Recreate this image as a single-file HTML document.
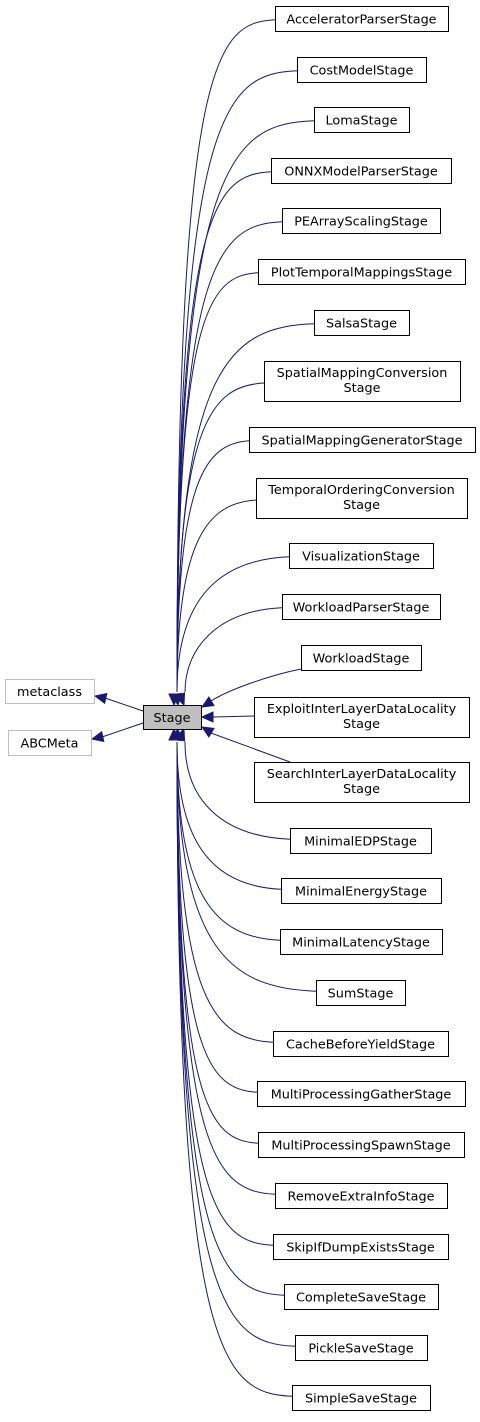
<!DOCTYPE html>
<html><head><meta charset="utf-8"><style>
html,body{margin:0;padding:0;background:#fff;}
svg text{font-family:"DejaVu Sans","Liberation Sans",sans-serif;font-size:12.8px;fill:#000;}
</style></head><body>
<svg id="g" width="480" height="1417" xmlns="http://www.w3.org/2000/svg"></svg>
<script>
const names = ["AcceleratorParserStage","CostModelStage","LomaStage","ONNXModelParserStage","PEArrayScalingStage","PlotTemporalMappingsStage","SalsaStage","SpatialMappingConversion|Stage","SpatialMappingGeneratorStage","TemporalOrderingConversion|Stage","VisualizationStage","WorkloadParserStage","WorkloadStage","ExploitInterLayerDataLocality|Stage","SearchInterLayerDataLocality|Stage","MinimalEDPStage","MinimalEnergyStage","MinimalLatencyStage","SumStage","CacheBeforeYieldStage","MultiProcessingGatherStage","MultiProcessingSpawnStage","RemoveExtraInfoStage","SkipIfDumpExistsStage","CompleteSaveStage","PickleSaveStage","SimpleSaveStage"];
const boxX = [275,297,314,271,282,258,314,264,249,256,289,282,301,254,254,290,281,280,316,273,257,258,275,273,284,295,292];
const boxW = [173,129,95,180,158,207,95,196,226,211,144,158,120,215,215,141,160,162,89,175,208,206,172,175,154,132,138];
const boxY = [6,57,107,158,208,259,310,361,427,478,543,594,645,697,762,828,878,929,980,1031,1081,1132,1183,1234,1284,1335,1385];
const NS="http://www.w3.org/2000/svg";
const svg=document.getElementById('g');
function el(t,a){const e=document.createElementNS(NS,t);for(const k in a)e.setAttribute(k,a[k]);svg.appendChild(e);return e;}
function arrow(x,y,dx,dy,name){
  const L=Math.hypot(dx,dy);const ux=dx/L,uy=dy/L;const l=11,w=5;
  const bx=x-ux*l,by=y-uy*l;
  const p=el('polygon',{points:`${x},${y} ${bx-uy*w},${by+ux*w} ${bx+uy*w},${by-ux*w}`,fill:'#191970',stroke:'#191970'});
  
  
}
const SX=143,SY=705,SW=58,SH=24;
for(let i=0;i<names.length;i++){
  const two=names[i].includes('|');const h=two?40:25;
  const x0=boxX[i],y0=boxY[i];
  let d;
  if(i===13){d=`M${x0},${y0+19} L${SX+SW+12},${SY+12}`;}
  else if(i===12){const sx=x0,sy=y0+h-1;d=`M${sx},${sy} C${sx-30},${sy+6} ${230},${SY-16} ${211},${SY-4}`;}
  else if(i===14){d=`M${x0+36},${y0} L${211},${SY+SH+4}`;}
  else {
    const up=y0<SY;
    const ex=SX+32, ey=up?SY-1:SY+SH+1;
    const sx=x0, sy=up?y0+h*0.55:y0+h*0.45;
    const c1x=sx-(sx-ex)*0.6;
    const cx=ex+(Math.abs(sy-ey)<120?10:2);
    d=`M${sx},${sy} C${c1x},${sy+(up?3:-3)} ${cx},${up?sy+40:sy-40} ${cx},${up?ey-12:ey+12}`;
  }
  const p=el('path',{d,fill:'none',stroke:'#191970','stroke-width':1});
  
  
}
arrow(174,SY,0,1,'arrowhead-top');
arrow(178,SY,0.15,1,'arrowhead-top');
arrow(184,SY,0.4,1,'arrowhead-top');
arrow(202,SY+2,-1,0.6,'arrowhead-workload');
arrow(SX+SW+1,SY+12,-1,0,'arrowhead-exploit');
arrow(202,SY+SH-2,-1,-0.6,'arrowhead-search');
arrow(174,SY+SH,0,-1,'arrowhead-bottom');
arrow(178,SY+SH,0.15,-1,'arrowhead-bottom');
arrow(184,SY+SH,0.4,-1,'arrowhead-bottom');
let p=el('path',{d:`M${SX},${SY+6} L105,698`,fill:'none',stroke:'#191970'});

p=el('path',{d:`M${SX},${SY+18} L102,737`,fill:'none',stroke:'#191970'});

arrow(95,696,-1,-0.22,'arrowhead-metaclass');
arrow(92,739,-1,0.22,'arrowhead-abcmeta');
function box(x,y,w,h,label,name,fill,stroke){
  const r=el('rect',{x:x+0.5,y:y+0.5,width:w,height:h,fill,stroke,'stroke-width':1});
  
  
  const lines=label.split('|');
  lines.forEach((ln,k)=>{
    const t=el('text',{x:x+w/2,y:y+(lines.length===1?h/2+5:16+k*15),'text-anchor':'middle'});
    t.textContent=ln;
    
    
  });
}
for(let i=0;i<names.length;i++){
  const two=names[i].includes('|');
  box(boxX[i],boxY[i],boxW[i],two?40:25,names[i],names[i].replace('|','').replace(/([a-z])([A-Z])/g,'$1-$2').toLowerCase()+'-node','#fff','#000');
}
box(SX,SY,SW,SH,'Stage','stage-node','#bfbfbf','#000');
box(5,679,89,24,'metaclass','metaclass-node','#fff','#bfbfbf');
box(8,730,83,25,'ABCMeta','abcmeta-node','#fff','#bfbfbf');
</script>
</body></html>
